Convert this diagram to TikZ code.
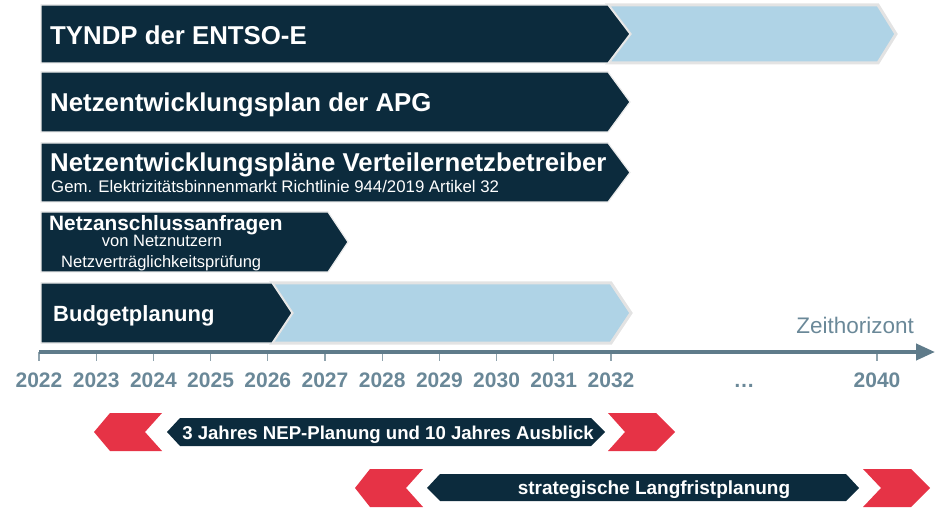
\documentclass[tikz,border=0pt]{standalone}
\usepackage{fontspec}
\setmainfont{Liberation Sans}
\usetikzlibrary{arrows.meta}
\definecolor{navy}{HTML}{0C2B3D}
\definecolor{skyblue}{HTML}{AFD3E6}
\definecolor{signalred}{HTML}{E63346}
\definecolor{axisgray}{HTML}{5F7B8A}
\definecolor{yeargray}{HTML}{6A8898}
\begin{document}
\begin{tikzpicture}[x=1pt, y=-1pt,
  bar/.style={fill=navy, draw=gray!15, line width=1.2pt},
  later/.style={fill=skyblue, draw=gray!22, line width=3pt, line join=miter},
  pointer/.style={fill=signalred},
  band/.style={fill=navy},
  title/.style={anchor=base west, inner sep=0pt, text=white, font=\fontsize{25.8}{30}\selectfont\bfseries},
  sub/.style={anchor=base west, inner sep=0pt, text=white, font=\fontsize{16.8}{19}\selectfont},
  bandtext/.style={anchor=base, inner sep=0pt, text=white, font=\fontsize{18.6}{22}\selectfont\bfseries},
  yearlabel/.style={anchor=base, inner sep=0pt, text=yeargray, font=\fontsize{21}{25}\selectfont\bfseries},
  tick/.style={draw=axisgray!70, line width=1.3pt}]
  \useasboundingbox (0,0) rectangle (936,510);
  % light blue continuations
  \draw[later] (608,5) -- (878,5) -- (896,34) -- (878,63) -- (608,63) -- (630,34) -- cycle;
  \draw[later] (272,283) -- (611,283) -- (631,313) -- (611,343) -- (272,343) -- (292,313) -- cycle;
  % dark bars
  \draw[bar] (41,5) -- (608,5) -- (630,34) -- (608,63) -- (41,63) -- cycle;
  \draw[bar] (41,72) -- (608,72) -- (630,102) -- (608,132) -- (41,132) -- cycle;
  \draw[bar] (41,143) -- (608,143) -- (630,172.5) -- (608,202) -- (41,202) -- cycle;
  \draw[bar] (41,212) -- (328,212) -- (348,242) -- (328,272) -- (41,272) -- cycle;
  \draw[bar] (41,283) -- (272,283) -- (292,313) -- (272,343) -- (41,343) -- cycle;

  \node[title] (tyndp) at (50,45) {TYNDP der ENTSO-E};
  \node[title] (apg) at (50,112) {Netzentwicklungsplan der APG};
  \node[title] (vnb) at (50,172) {Netzentwicklungspläne Verteilernetzbetreiber};
  \node[sub] (gem) at (51,193) {Gem. Elektrizitätsbinnenmarkt Richtlinie 944/2019 Artikel 32};
  \node[title, font=\fontsize{20.8}{24}\selectfont\bfseries] (nanf) at (49,231) {Netzanschlussanfragen};
  \node[sub, anchor=base, font=\fontsize{16.5}{19}\selectfont] (nutz) at (162,247) {von Netznutzern};
  \node[sub, font=\fontsize{16.5}{19}\selectfont] (pruef) at (61,268) {Netzverträglichkeitsprüfung};
  \node[title, font=\fontsize{22}{26}\selectfont\bfseries] (budget) at (53,321) {Budgetplanung};

  % time axis
  \foreach \yr [count=\i from 0] in {2022,...,2032}{
    \draw[tick] ({39+57.2*\i},352) -- ++(0,9);
    \node[yearlabel] (y\yr) at ({39+57.2*\i},387) {\yr};
  }
  \draw[tick] (877,352) -- ++(0,9);
  \node[yearlabel] (y2040) at (877,387) {2040};
  \node[yearlabel] (dots) at (744,387) {\dots};
  \coordinate (ax0) at (39,352);
  \coordinate (ax1) at (935,352);
  \draw[axisgray, line width=4pt, -{Triangle[length=19pt,width=16pt]}] (ax0) -- (ax1);
  \node[anchor=base east, inner sep=0pt, text=yeargray, font=\fontsize{22.5}{26}\selectfont] (zeit) at (914,333) {Zeithorizont};

  % planning horizons
  \fill[pointer] (110,413) -- (162,413) -- (145,432) -- (162,451) -- (110,451) -- (94,432) -- cycle;
  \fill[band] (167,432) -- (180,418) -- (591,418) -- (605,432) -- (591,446) -- (180,446) -- cycle;
  \fill[pointer] (608,413) -- (656,413) -- (675,432) -- (656,451) -- (608,451) -- (625,432) -- cycle;
  \node[bandtext] (nep) at (388,439) {3 Jahres NEP-Planung und 10 Jahres Ausblick};

  \fill[pointer] (370,469) -- (423,469) -- (406,488) -- (423,507) -- (370,507) -- (355,488) -- cycle;
  \fill[band] (427,488) -- (440,474) -- (846,474) -- (859,488) -- (846,501) -- (440,501) -- cycle;
  \fill[pointer] (863,469) -- (911,469) -- (930,488) -- (911,507) -- (863,507) -- (881,488) -- cycle;
  \node[bandtext, font=\fontsize{19}{22}\selectfont\bfseries] (lang) at (654,494) {strategische Langfristplanung};
\end{tikzpicture}
\end{document}
